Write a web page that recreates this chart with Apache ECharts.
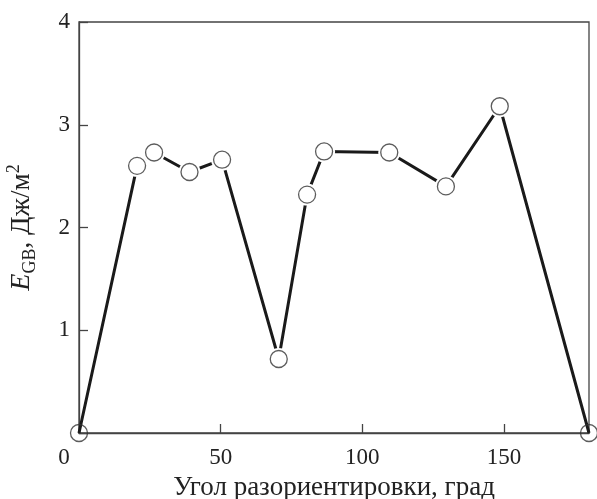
<!DOCTYPE html>
<html>
<head>
<meta charset="utf-8">
<script src="https://cdn.jsdelivr.net/npm/echarts@6/dist/echarts.min.js"></script>
<style>
  html, body { margin: 0; padding: 0; background: #fff; }
  #main { width: 597px; height: 499px; }
</style>
</head>
<body>
<div id="main"></div>
<script>
// угол разориентировки, град
var angles = [0, 20.5, 26.5, 39, 50.5, 70.5, 80.5, 86.5, 109.5, 129.5, 148.5, 180]
// энергия границы, Дж/м2
var energy = [0, 2.6, 2.73, 2.54, 2.66, 0.72, 2.32, 2.74, 2.73, 2.4, 3.18, 0]
var xTicks = [0, 50, 100, 150]
var yTicks = [1, 2, 3, 4]

var points = angles.map(function (a, i) { return [a, energy[i]] })
var font = 'Liberation Serif'
var lastIdx = points.length - 1

var option = {
    animation: false,
    grid: {
        left: 79,
        right: 8,
        top: 22,
        bottom: 66,
        outerBoundsMode: 'none',
        show: true,
        borderColor: '#444',
        borderWidth: 1.3
    },
    xAxis: {
        type: 'value',
        min: 0,
        max: 180,
        interval: 50,
        axisLine: { lineStyle: { color: '#444', width: 1.3 } },
        axisTick: { inside: true, length: 9, lineStyle: { color: '#444', width: 1.3 } },
        splitLine: { show: false },
        axisLabel: {
            margin: 13,
            color: '#222',
            fontFamily: font,
            fontSize: 23,
            showMaxLabel: false,
            formatter: function (v) {
                if (xTicks.indexOf(v) < 0) return ''
                return v === 0 ? '{z|0}' : String(v)
            },
            rich: {
                z: { fontFamily: font, fontSize: 23, color: '#222', padding: [0, 30, 0, 0] }
            }
        },
        name: 'Угол разориентировки, град',
        nameLocation: 'middle',
        nameGap: 41,
        nameTextStyle: { fontFamily: font, fontSize: 27, color: '#222' }
    },
    yAxis: {
        type: 'value',
        min: 0,
        max: 4,
        interval: 1,
        axisLine: { lineStyle: { color: '#444', width: 1.3 } },
        axisTick: { inside: true, length: 9, lineStyle: { color: '#444', width: 1.3 } },
        splitLine: { show: false },
        axisLabel: {
            margin: 9,
            color: '#222',
            fontFamily: font,
            fontSize: 23,
            formatter: function (v) { return yTicks.indexOf(v) < 0 ? '' : String(v) }
        },
        name: '{e|E}{s|GB}{n|, Дж/м}{p|2}',
        nameLocation: 'middle',
        nameRotate: 90,
        nameGap: 40,
        nameTextStyle: {
            rich: {
                e: { fontFamily: font, fontSize: 28, fontStyle: 'italic', color: '#222', lineHeight: 34, verticalAlign: 'middle' },
                s: { fontFamily: font, fontSize: 18, color: '#222', verticalAlign: 'bottom' },
                n: { fontFamily: font, fontSize: 27, color: '#222', lineHeight: 34, verticalAlign: 'middle' },
                p: { fontFamily: font, fontSize: 18, color: '#222', verticalAlign: 'top' }
            }
        }
    },
    series: [
        {
            // ломаная линия с белыми "ореолами" вокруг точек
            type: 'line',
            data: points,
            z: 2,
            lineStyle: { color: '#1a1a1a', width: 3 },
            symbol: 'circle',
            symbolSize: function (v, p) {
                return (p.dataIndex === 0 || p.dataIndex === lastIdx) ? 0 : 22
            },
            itemStyle: { color: '#fff', borderWidth: 0 }
        },
        {
            type: 'scatter',
            data: points,
            z: 3,
            symbol: 'circle',
            symbolSize: 17,
            itemStyle: { color: 'rgba(0,0,0,0)', borderColor: '#333', borderWidth: 1.3 }
        }
    ]
}

var myChart = echarts.init(document.getElementById('main'))
myChart.setOption(option)
</script>
</body>
</html>
